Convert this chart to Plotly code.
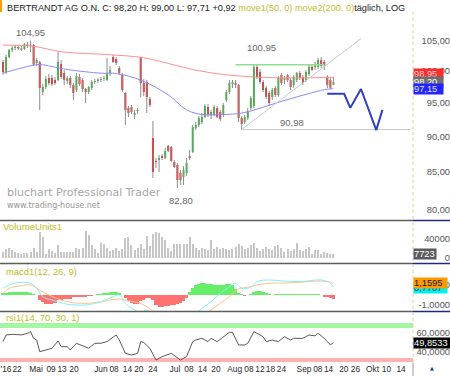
import math
import plotly.graph_objects as go

# ---------------- data ----------------
day = list(range(109))

open_ = [101.41, 99.79, 102.23, 103.38, 103.72, 103.88, 103.64, 103.55, 104.30, 104.05,
         104.22, 101.25, 101.41, 96.63, 97.41, 98.83, 98.83, 98.52, 98.52, 101.08,
         99.63, 98.36, 98.83, 97.73, 96.94, 98.99, 98.52, 97.10, 96.63, 97.26,
         98.20, 98.36, 98.52, 98.67, 98.52, 99.63, 102.23, 101.90, 100.43, 99.31,
         96.48, 94.18, 94.33, 93.13, 93.73, 102.06, 98.04, 98.20, 95.55, 89.75,
         86.49, 86.63, 87.18, 86.91, 88.60, 88.46, 86.35, 85.93, 84.83, 84.29,
         84.83, 87.18, 87.75, 91.20, 91.64, 92.08, 92.83, 94.33, 93.13, 93.13,
         94.18, 93.58, 93.13, 95.40, 96.63, 97.88, 98.04, 97.73, 92.68, 92.08,
         92.68, 94.18, 94.48, 100.60, 99.79, 98.20, 97.26, 96.48, 95.86, 97.26,
         96.17, 99.31, 98.52, 99.31, 98.52, 97.73, 98.52, 99.63, 98.99, 98.52,
         99.47, 100.60, 100.60, 100.60, 101.73, 101.41, 98.99, 98.52, 97.75]
high = [101.73, 102.56, 103.55, 104.05, 104.22, 104.22, 104.05, 104.55, 104.72, 104.95,
        104.39, 102.06, 101.57, 97.88, 99.15, 99.47, 99.31, 98.99, 103.05, 101.73,
        100.11, 99.15, 99.15, 98.04, 99.63, 99.47, 98.83, 97.26, 97.57, 98.52,
        98.67, 98.83, 98.99, 99.15, 102.06, 100.76, 102.56, 102.23, 100.76, 99.63,
        96.63, 94.48, 94.64, 93.88, 94.18, 102.23, 98.67, 98.52, 95.86, 92.23,
        86.91, 87.33, 87.47, 88.31, 88.74, 88.60, 86.63, 86.21, 85.24, 85.79,
        86.91, 88.03, 91.64, 92.08, 92.98, 93.43, 94.79, 94.79, 93.88, 94.64,
        94.48, 93.88, 94.94, 96.94, 98.52, 98.52, 98.52, 97.88, 92.98, 93.13,
        94.18, 96.01, 100.95, 100.92, 100.27, 98.52, 97.57, 96.79, 97.26, 97.57,
        99.15, 99.63, 99.15, 99.47, 98.83, 99.31, 99.79, 99.95, 99.31, 100.11,
        100.95, 100.95, 101.41, 102.06, 102.23, 101.73, 99.31, 98.83, 99.00]
low = [99.31, 99.47, 102.06, 103.05, 103.38, 103.38, 103.22, 103.38, 103.72, 103.05,
       100.76, 100.76, 93.88, 96.17, 97.10, 97.73, 97.57, 97.73, 98.36, 98.67,
       97.73, 97.88, 97.26, 95.40, 96.63, 97.57, 96.63, 94.94, 96.32, 96.94,
       97.88, 98.04, 98.20, 98.36, 98.36, 99.15, 101.25, 100.92, 99.31, 96.63,
       91.64, 92.83, 93.28, 92.53, 93.28, 95.86, 96.01, 93.43, 94.33, 84.16,
       85.52, 84.97, 86.63, 86.77, 87.75, 86.35, 85.52, 82.80, 83.21, 83.21,
       84.43, 86.63, 87.61, 90.91, 91.35, 91.79, 92.68, 92.83, 92.53, 92.98,
       92.68, 92.23, 92.83, 95.09, 96.32, 97.26, 97.26, 92.08, 90.98, 91.79,
       92.38, 93.88, 94.18, 98.67, 97.88, 96.63, 95.55, 94.48, 95.40, 95.86,
       95.86, 97.73, 97.88, 98.20, 96.94, 97.26, 98.20, 98.52, 97.73, 98.20,
       99.15, 99.95, 100.11, 100.27, 100.43, 100.11, 97.26, 97.10, 97.71]
close = [99.79, 102.23, 103.38, 103.72, 103.97, 103.64, 103.46, 104.39, 104.05, 104.22,
         101.00, 101.73, 97.26, 97.41, 98.67, 98.04, 97.88, 98.04, 101.41, 98.99,
         98.52, 98.83, 97.73, 96.48, 99.15, 97.88, 97.10, 96.63, 97.41, 98.20,
         98.36, 98.60, 98.67, 98.75, 99.63, 100.11, 101.41, 101.25, 99.63, 96.94,
         93.88, 93.43, 93.58, 93.43, 93.88, 98.04, 96.63, 95.86, 94.64, 84.97,
         86.35, 86.91, 86.91, 87.89, 87.89, 86.49, 85.66, 83.89, 83.89, 85.24,
         86.21, 86.91, 91.35, 91.64, 92.68, 92.83, 94.48, 93.13, 93.58, 94.33,
         92.83, 92.53, 94.64, 96.63, 98.04, 98.20, 97.73, 92.68, 91.79, 92.83,
         93.73, 95.71, 100.60, 98.99, 98.20, 96.94, 95.86, 94.94, 96.94, 96.17,
         98.83, 98.04, 98.83, 98.52, 97.41, 98.99, 99.63, 98.83, 98.04, 99.79,
         100.60, 100.11, 101.08, 101.73, 100.76, 100.92, 97.73, 97.28, 98.20]
volume = [12000, 18000, 21000, 16000, 13000, 11000, 9000, 10000, 10000, 13000,
          22000, 12000, 55000, 45000, 8000, 19000, 15000, 10000, 27000, 12000,
          12000, 12000, 13000, 12000, 21000, 19000, 21000, 56000, 48000, 27000,
          20000, 10000, 31000, 29000, 22000, 14000, 16000, 22000, 15000, 20000,
          43000, 45000, 28000, 17000, 21000, 30000, 18000, 47000, 26000, 50000,
          55000, 52000, 45000, 38000, 22000, 15000, 29000, 30000, 30000, 30000,
          29000, 45000, 30000, 22000, 16000, 21000, 18000, 16000, 38000, 18000,
          23000, 20000, 22000, 20000, 16000, 19000, 24000, 30000, 26000, 20000,
          21000, 27000, 31000, 22000, 15000, 19000, 24000, 20000, 17000, 25000,
          28000, 22000, 13000, 18000, 15000, 19000, 31000, 17000, 14000, 20000,
          24000, 9000, 16000, 16000, 9000, 13000, 10000, 9000, 7723]

# moving averages (read at selected days)
ma200_day = [0, 10, 19, 35, 46, 57, 64, 72, 82, 95, 108]
ma200_val = [104.2, 104.0, 103.1, 102.6, 102.1, 100.8, 100.0, 99.4, 99.0, 98.85, 98.95]
ma50_day = [0, 5, 10, 12, 21, 32, 37, 45, 54, 60, 65, 72, 78, 83, 89, 94, 100, 105, 108]
ma50_val = [99.6, 100.3, 100.9, 101.0, 100.2, 99.6, 99.55, 98.5, 96.2, 93.9, 93.2, 93.2,
            93.4, 94.0, 94.9, 95.6, 96.4, 97.0, 97.15]

# MACD
macd_day = [0, 2, 6, 9, 11, 13, 16, 21, 24, 27, 32, 36, 38, 40, 43, 45, 47, 49, 51, 55,
            58, 61, 64, 68, 71, 74, 76, 78, 80, 82, 83, 86, 92, 97, 104, 107, 108]
macd_val = [0.67, 1.0, 1.27, 1.17, 0.67, -0.17, -0.5, -0.93, -1.0, -1.0, -0.67, -0.17, 0.0,
            -0.83, -1.5, -1.8, -1.5, -1.9, -2.8, -3.3, -3.4, -2.6, -1.6, -0.67, 0.17, 0.83,
            1.17, 0.67, 0.67, 1.0, 1.33, 1.5, 1.4, 1.33, 1.5, 1.17, 0.7707]
sig_day = [0, 2, 6, 9, 12, 15, 19, 22, 25, 28, 32, 35, 38, 41, 44, 47, 49, 52, 57, 61, 65,
           68, 71, 74, 77, 81, 84, 87, 92, 97, 104, 107, 108]
sig_val = [0.17, 0.67, 0.93, 1.0, 0.5, 0.0, -0.5, -0.73, -0.83, -0.83, -0.67, -0.5, -0.4,
           -0.6, -0.73, -1.17, -1.6, -2.2, -2.6, -2.5, -2.0, -1.5, -0.83, -0.17, 0.6, 0.83,
           1.07, 1.17, 1.2, 1.27, 1.4, 1.27, 1.1595]
hist = [0.17, 0.25, 0.30, 0.32, 0.33, 0.33, 0.33, 0.32, 0.30, 0.25,
        0.10, 0.00, -0.45, -0.70, -0.85, -0.90, -0.85, -0.75, -0.50, -0.45,
        -0.40, -0.38, -0.35, -0.22, -0.20, -0.18, -0.15, -0.15, -0.10, -0.05,
        0.00, 0.05, 0.08, 0.12, 0.20, 0.30, 0.33, 0.35, 0.20, 0.00,
        -0.30, -0.60, -0.80, -0.90, -0.85, -0.60, -0.45, -0.30, -0.25, -0.50,
        -1.00, -1.17, -1.17, -1.12, -1.05, -1.00, -0.95, -0.90, -0.80, -0.60,
        -0.30, 0.30, 0.70, 1.00, 1.12, 1.20, 1.20, 1.15, 1.10, 1.05,
        1.00, 1.00, 1.05, 1.10, 1.10, 1.00, 0.60, 0.25, 0.02, -0.05,
        0.00, 0.05, 0.30, 0.37, 0.37, 0.30, 0.20, 0.05, 0.00, 0.04,
        0.05, 0.06, 0.05, 0.04, 0.05, 0.06, 0.05, 0.05, 0.04, 0.05,
        0.06, 0.05, 0.04, 0.05, 0.00, -0.12, -0.22, -0.30, -0.35]

# RSI
rsi_day = [0, 1, 3, 6, 8, 9, 10, 11, 12, 14, 16, 18, 19, 21, 22, 24, 26, 28, 30, 32, 34, 37,
           38, 40, 42, 44, 45, 46, 48, 50, 52, 55, 58, 60, 62, 63, 65, 67, 68, 70, 74, 75,
           77, 79, 80, 82, 85, 86, 88, 90, 92, 94, 95, 98, 100, 102, 103, 105, 107, 108]
rsi_val = [50.9, 57.9, 58.6, 58.0, 59.6, 61.4, 54.4, 52.6, 40.3, 42.1, 43.9, 51.6, 45.6,
           45.6, 42.1, 49.2, 46.7, 43.9, 49.2, 49.2, 50.9, 57.9, 52.6, 38.6, 36.8, 38.6,
           50.9, 50.0, 43.9, 31.6, 35.1, 38.6, 31.6, 35.1, 50.9, 52.6, 54.4, 50.9, 54.4,
           50.9, 60.7, 60.7, 47.4, 47.4, 49.2, 61.4, 56.1, 50.9, 52.6, 50.9, 56.1, 52.6,
           54.4, 54.4, 57.9, 57.0, 59.6, 54.4, 47.4, 49.8533]

# drawn objects
res_day = [76, 105]                 # resistance at 100,95
sup_day = [78, 133]                 # support at 90,98
trend_day = [78, 117]
trend_val = [90.98, 105.3]
proj_day = [106, 111.5, 113.5, 117, 122, 124]
proj_val = [96.35, 96.35, 94.2, 97.1, 90.9, 93.9]

# axis ticks
tick_pos = [1.0, 4.6, 10.8, 15.7, 19.3, 23.2, 32, 36.3, 40.7, 44.4, 49, 56.2, 60.8, 65.2,
            69.6, 75.7, 80.4, 84, 87.4, 91.0, 98.4, 102.9, 106.4, 111.4, 115.2, 120.8,
            125.3, 130.1]
tick_text = ["'16", "22", "Mai", "09", "13", "20", "Jun", "08", "14", "20", "24", "Jul",
             "08", "14", "20", "Aug", "08", "12", "18", "24", "Sep", "08", "14", "20", "26",
             "Okt", "10", "14"]
price_ticks = [80, 85, 90, 95, 100, 105]
vol_ticks = [0, 40000]
macd_ticks = [-1, 1]
rsi_ticks = [40, 60]

# ---------------- layout helpers ----------------
W, H = 450, 376
PH = 363.0                      # plot height (bottom margin 13)
XR_ = 413 / W                   # right edge of panels (paper)
XRANGE = [-0.98, 134.0]
FONT = "Liberation Sans, Arial, sans-serif"


def dom(top_px, bot_px):
    return [(PH - bot_px) / PH, (PH - top_px) / PH]


def fmt(v, d=2):
    return f"{v:.{d}f}".replace(".", ",")


fig = go.Figure()

# price panel
fig.add_trace(go.Ohlc(x=day, open=open_, high=high, low=low, close=close, tickwidth=0,
                      increasing=dict(line=dict(color="#8c8c8c", width=1)),
                      decreasing=dict(line=dict(color="#8c8c8c", width=1)),
                      xaxis="x", yaxis="y", hoverinfo="skip"))
fig.add_trace(go.Candlestick(x=day, open=open_, high=high, low=low, close=close,
                             whiskerwidth=0,
                             increasing=dict(fillcolor="#22c222", line=dict(color="#22c222", width=0)),
                             decreasing=dict(fillcolor="#e81010", line=dict(color="#e81010", width=0)),
                             xaxis="x", yaxis="y"))
fig.add_trace(go.Scatter(x=ma200_day, y=ma200_val, mode="lines",
                         line=dict(color="#ff8f8f", width=1, shape="spline"), xaxis="x", yaxis="y"))
fig.add_trace(go.Scatter(x=ma50_day, y=ma50_val, mode="lines",
                         line=dict(color="#8a8aff", width=1, shape="spline"), xaxis="x", yaxis="y"))
fig.add_trace(go.Scatter(x=res_day, y=[high[82]] * 2, mode="lines",
                         line=dict(color="#8fe08f", width=1.5), xaxis="x", yaxis="y"))
fig.add_trace(go.Scatter(x=sup_day, y=[low[78]] * 2, mode="lines",
                         line=dict(color="#c8c8c8", width=1), xaxis="x", yaxis="y"))
fig.add_trace(go.Scatter(x=trend_day, y=trend_val, mode="lines",
                         line=dict(color="#c8c8c8", width=1), xaxis="x", yaxis="y"))
fig.add_trace(go.Scatter(x=proj_day, y=proj_val, mode="lines",
                         line=dict(color="#2f3fc0", width=2), xaxis="x", yaxis="y"))

# volume
fig.add_trace(go.Bar(x=day, y=volume, width=0.34, marker=dict(color="#c6c6c6", line=dict(width=0)),
                     xaxis="x2", yaxis="y2"))

# MACD
fig.add_trace(go.Bar(x=day, y=hist, width=1.0,
                     marker=dict(color=["#66ee66" if v >= 0 else "#ff7272" for v in hist],
                                 line=dict(width=0)),
                     xaxis="x3", yaxis="y3"))
fig.add_trace(go.Scatter(x=sig_day, y=sig_val, mode="lines",
                         line=dict(color="#ffc287", width=1, shape="spline"), xaxis="x3", yaxis="y3"))
fig.add_trace(go.Scatter(x=macd_day, y=macd_val, mode="lines",
                         line=dict(color="#80f0f8", width=1, shape="spline"), xaxis="x3", yaxis="y3"))

# RSI
fig.add_trace(go.Scatter(x=rsi_day, y=rsi_val, mode="lines",
                         line=dict(color="#5a5a5a", width=1), xaxis="x4", yaxis="y4"))

axis_font = dict(family=FONT, size=9.3, color="#555555")
common_x = dict(range=XRANGE, domain=[0, XR_], showgrid=False, zeroline=False, showline=False,
                fixedrange=True, automargin=False)
common_y = dict(showgrid=False, zeroline=False, showline=False, anchor="free", position=1.0,
                side="left", ticks="", tickfont=axis_font, fixedrange=True, tickmode="array",
                automargin=False)

fig.update_layout(
    width=W, height=H, margin=dict(l=0, r=0, t=0, b=13, autoexpand=False),
    paper_bgcolor="white", plot_bgcolor="white", showlegend=False,
    font=dict(family=FONT), bargap=0, boxgap=0.1,
    xaxis=dict(common_x, anchor="y", showticklabels=False, rangeslider=dict(visible=False)),
    xaxis2=dict(common_x, anchor="y2", showticklabels=False),
    xaxis3=dict(common_x, anchor="y3", showticklabels=False),
    xaxis4=dict(common_x, anchor="y4", tickmode="array", tickvals=tick_pos, ticktext=tick_text,
                ticks="", tickangle=0, ticklabeloverflow="allow",
                tickfont=dict(family=FONT, size=8.4, color="#2a2a2a")),
    yaxis=dict(common_y, domain=dom(12, 220), type="log",
               range=[math.log10(78.66), math.log10(109.9)],
               tickvals=price_ticks, ticktext=[fmt(v) for v in price_ticks]),
    yaxis2=dict(common_y, domain=dom(222, 263), range=[-10526, 75790],
                tickvals=vol_ticks, ticktext=[str(v) for v in vol_ticks]),
    yaxis3=dict(common_y, domain=dom(265, 311), range=[-1.6, 3.0],
                tickvals=macd_ticks, ticktext=[fmt(v, 4) for v in macd_ticks]),
    yaxis4=dict(common_y, domain=dom(313, 363), range=[28.42, 81.05],
                tickvals=rsi_ticks, ticktext=[fmt(v, 4) for v in rsi_ticks]),
)

shapes = []
for ypx in [220.5, 263.5, 311.5]:
    yp = (PH - ypx) / PH
    shapes.append(dict(type="line", xref="paper", yref="paper", x0=0, x1=XR_, y0=yp, y1=yp,
                       line=dict(color="#5c5c5c", width=1.5)))
    shapes.append(dict(type="line", xref="paper", yref="paper", x0=XR_, x1=1, y0=yp, y1=yp,
                       line=dict(color="#1c2a80", width=1.5)))
shapes.append(dict(type="line", xref="paper", yref="paper", x0=XR_, x1=XR_, y0=0,
                   y1=(PH - 12) / PH, line=dict(color="#e8cc88", width=1, dash="dot")))
shapes.append(dict(type="line", xref="paper", yref="paper", x0=XR_, x1=XR_, y0=-13 / PH,
                   y1=0, line=dict(color="#9a9a9a", width=1)))
shapes.append(dict(type="rect", xref="paper", yref="paper", x0=0, x1=2 / W,
                   y0=(PH - 12) / PH, y1=1.0, fillcolor="#ff9a00", line=dict(width=0)))
shapes.append(dict(type="rect", xref="x4 domain", yref="y4", x0=0, x1=1, y0=65.3, y1=70.5,
                   fillcolor="#a4f5a4", line=dict(width=0), layer="below"))
shapes.append(dict(type="rect", xref="x4 domain", yref="y4", x0=0, x1=1, y0=29.5, y1=33.7,
                   fillcolor="#ffb0b0", line=dict(width=0), layer="below"))
fig.update_layout(shapes=shapes)

OLIVE = "#c4bc2c"
title = (f"BERTRANDT AG O.N. C: {fmt(close[-1])} H: {fmt(high[-1])} L: {fmt(low[-1])} "
         f"+{fmt(close[-1] - close[-2])} <span style='color:{OLIVE}'>move1(50, 0) "
         f"move2(200, 0)</span>täglich, LOG")

ann = []


def a(**kw):
    base = dict(showarrow=False, font=dict(family=FONT, size=9.5, color="#666666"))
    base.update(kw)
    ann.append(base)


a(text=title, xref="paper", yref="paper", x=5 / W, y=(PH - 7.5) / PH, xanchor="left",
  yanchor="middle", font=dict(family=FONT, size=9.2, color="#222222"))
a(text="VolumeUnits1", xref="paper", yref="paper", x=1 / W, y=(PH - 226.5) / PH,
  xanchor="left", yanchor="middle", font=dict(family=FONT, size=9.6, color=OLIVE))
a(text="macd1(12, 26, 9)", xref="paper", yref="paper", x=4 / W, y=(PH - 271) / PH,
  xanchor="left", yanchor="middle", font=dict(family=FONT, size=9.4, color=OLIVE))
a(text="rsi1(14, 70, 30, 1)", xref="paper", yref="paper", x=4 / W, y=(PH - 317.5) / PH,
  xanchor="left", yanchor="middle", font=dict(family=FONT, size=9.4, color=OLIVE))

# price labels
a(text=fmt(max(high)), xref="x", yref="y", x=9, y=math.log10(max(high)), yshift=8)
a(text=fmt(high[82]), xref="x", yref="y", x=82, y=math.log10(high[82]), xshift=8, yshift=17)
a(text=fmt(low[78]), xref="x", yref="y", x=94.5, y=math.log10(low[78]), yshift=7)
a(text=fmt(min(low)), xref="x", yref="y", x=57, y=math.log10(min(low)), xshift=4, yshift=-12)

# watermark
a(text="bluchart Professional Trader", xref="paper", yref="paper", x=5 / W,
  y=(PH - 192) / PH, xanchor="left", yanchor="middle",
  font=dict(family="DejaVu Sans", size=11, color="#a6a6a6"))
a(text="www.trading-house.net", xref="paper", yref="paper", x=5 / W, y=(PH - 205) / PH,
  xanchor="left", yanchor="middle", font=dict(family="DejaVu Sans", size=8, color="#949494"))


def box(text, yref, y, bg, fg, yshift=0, width=None):
    d = dict(text=text, xref="paper", yref=yref, x=XR_, y=y, xanchor="left",
             yanchor="middle", bgcolor=bg, borderpad=0, yshift=yshift, align="left",
             font=dict(family=FONT, size=9.3, color=fg))
    if width:
        d["width"] = width
    a(**d)


box(fmt(ma200_val[-1]), "y", math.log10(ma200_val[-1]), "#ff2a2a", "#ffd6d6", yshift=3, width=29)
box(fmt(close[-1]), "y", math.log10(close[-1]), "#6e6e6e", "#ffffff", width=29)
box(fmt(ma50_val[-1]), "y", math.log10(ma50_val[-1]), "#2424ff", "#e0e0ff", width=29)
box(str(volume[-1]), "y2", volume[-1], "#5a5a5a", "#ffffff", width=22)
box(fmt(macd_val[-1], 4), "y3", macd_val[-1], "#00f0f0", "#0a3a5a", yshift=-1, width=33)
box(fmt(sig_val[-1], 4), "y3", sig_val[-1], "#ff9900", "#1a1a1a", width=33)
box(fmt(rsi_val[-1], 4), "y4", rsi_val[-1], "#000000", "#ffffff", width=36)

a(text="▲", xref="paper", yref="paper", x=432 / W, y=-5 / PH, xanchor="center",
  yanchor="middle", font=dict(family="DejaVu Sans", size=5, color="#1c2a80"))

fig.update_layout(annotations=ann)
fig.write_html("out.html")
